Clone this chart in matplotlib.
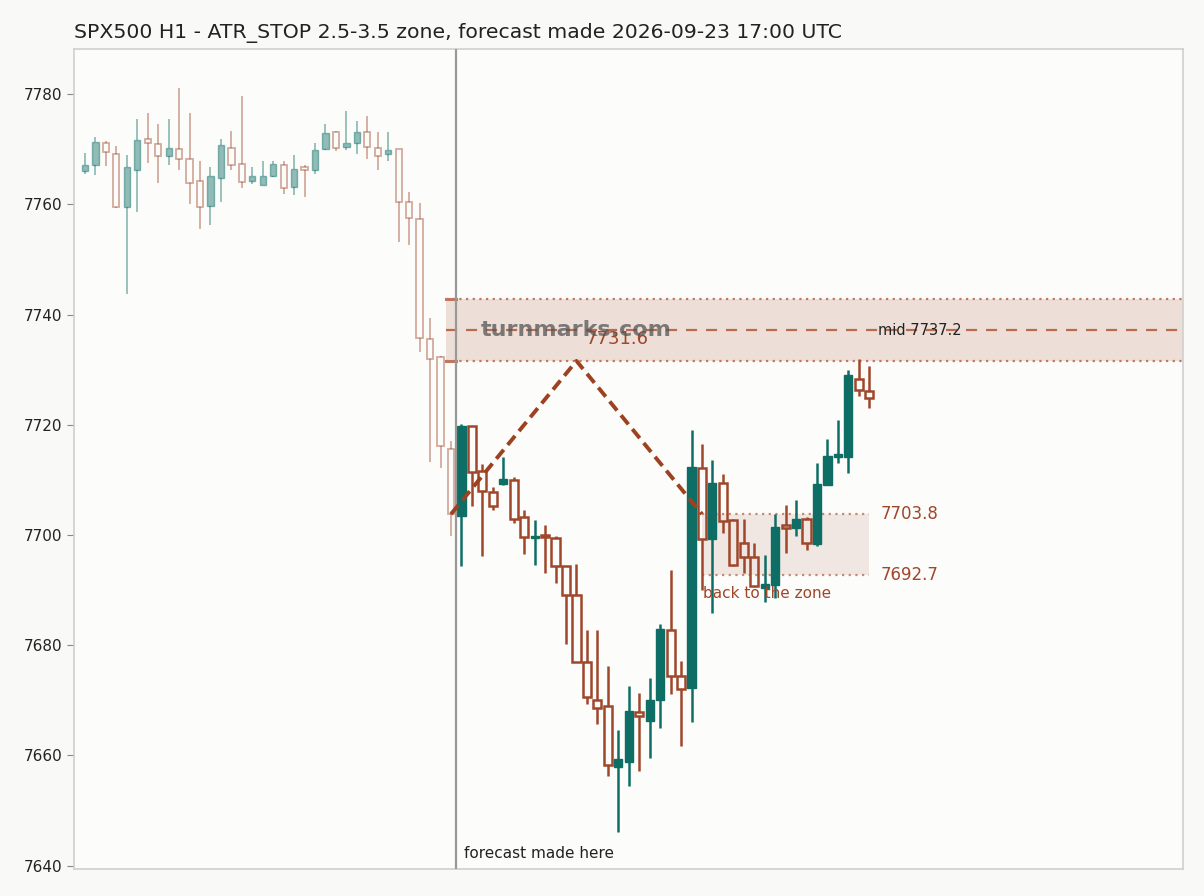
import matplotlib
matplotlib.use("Agg")
import matplotlib.pyplot as plt
from matplotlib.patches import Rectangle

# ---------------- data ----------------
title = "SPX500 H1 - ATR_STOP 2.5-3.5 zone, forecast made 2026-09-23 17:00 UTC"

hist_open  = [7766.1, 7767.2, 7771.1, 7769.1, 7759.5, 7766.3, 7771.9, 7770.9, 7768.8, 7770.0,
              7768.2, 7764.2, 7759.7, 7764.8, 7770.3, 7767.4, 7764.2, 7763.6, 7765.2, 7767.1,
              7763.1, 7766.7, 7766.3, 7770.0, 7773.1, 7770.5, 7771.2, 7773.1, 7770.3, 7769.1,
              7770.0, 7760.4, 7757.3, 7735.5, 7732.3, 7715.7]
hist_high  = [7769.4, 7772.3, 7771.5, 7770.6, 7768.9, 7775.5, 7776.6, 7774.6, 7775.5, 7781.2,
              7776.6, 7767.8, 7766.7, 7771.9, 7773.4, 7779.6, 7766.8, 7767.8, 7767.8, 7767.8,
              7769.0, 7767.1, 7771.2, 7774.5, 7773.3, 7777.0, 7775.2, 7776.1, 7773.2, 7773.2,
              7770.0, 7762.3, 7760.3, 7739.3, 7732.5, 7717.0]
hist_low   = [7765.6, 7765.4, 7766.9, 7759.4, 7743.7, 7758.6, 7767.6, 7763.8, 7767.1, 7766.3,
              7760.0, 7755.5, 7756.2, 7760.4, 7766.2, 7762.9, 7763.7, 7763.5, 7765.0, 7761.8,
              7761.7, 7761.3, 7765.6, 7769.8, 7769.6, 7769.8, 7769.2, 7768.2, 7766.3, 7767.8,
              7753.1, 7752.7, 7733.3, 7713.3, 7712.2, 7699.8]
hist_close = [7767.1, 7771.4, 7769.5, 7759.5, 7766.7, 7771.6, 7771.1, 7768.7, 7770.2, 7768.3,
              7763.8, 7759.6, 7765.1, 7770.7, 7767.1, 7764.0, 7765.1, 7765.1, 7767.3, 7762.9,
              7766.5, 7766.3, 7769.8, 7772.9, 7770.2, 7771.2, 7773.2, 7770.5, 7768.7, 7769.8,
              7760.4, 7757.5, 7735.7, 7732.0, 7716.1, 7703.8]

fut_open  = [7703.5, 7719.8, 7711.7, 7707.9, 7709.3, 7709.9, 7703.3, 7699.4, 7700.0, 7699.5,
             7694.3, 7689.2, 7677.0, 7670.1, 7668.9, 7658.0, 7658.8, 7667.8, 7666.3, 7670.0,
             7682.7, 7674.4, 7672.2, 7712.2, 7699.3, 7709.4, 7702.8, 7698.6, 7696.1, 7690.4,
             7691.0, 7701.8, 7701.3, 7703.0, 7698.4, 7709.1, 7714.1, 7714.2, 7728.4, 7726.2]
fut_high  = [7720.2, 7719.8, 7712.9, 7708.7, 7714.1, 7710.5, 7704.6, 7702.7, 7701.8, 7699.8,
             7694.4, 7694.8, 7682.8, 7682.8, 7676.3, 7664.7, 7672.6, 7671.3, 7674.1, 7683.9,
             7693.7, 7677.2, 7719.1, 7716.5, 7713.6, 7711.1, 7703.0, 7703.0, 7698.5, 7696.4,
             7703.9, 7705.5, 7706.4, 7703.3, 7713.0, 7717.5, 7720.9, 7730.0, 7731.9, 7730.7]
fut_low   = [7694.3, 7705.2, 7696.2, 7704.6, 7709.1, 7702.2, 7696.6, 7694.6, 7693.2, 7691.3,
             7680.2, 7676.9, 7669.4, 7665.7, 7656.2, 7646.2, 7654.5, 7657.1, 7659.6, 7664.9,
             7671.2, 7661.7, 7666.1, 7690.1, 7685.8, 7700.3, 7694.3, 7693.2, 7690.6, 7687.9,
             7688.5, 7696.7, 7699.9, 7697.2, 7698.1, 7709.1, 7713.0, 7711.2, 7725.2, 7723.0]
fut_close = [7719.7, 7711.4, 7708.0, 7705.2, 7710.2, 7703.0, 7699.6, 7699.8, 7699.6, 7694.4,
             7689.1, 7676.9, 7670.6, 7668.6, 7658.2, 7659.3, 7668.0, 7667.1, 7670.1, 7683.0,
             7674.4, 7672.0, 7712.4, 7699.3, 7709.5, 7702.5, 7694.5, 7696.1, 7690.7, 7691.1,
             7701.4, 7701.3, 7703.0, 7698.5, 7709.2, 7714.3, 7714.7, 7729.0, 7726.3, 7724.9]

zone_low, zone_mid, zone_high = 7731.6, 7737.2, 7742.8
target_low, target_high = 7692.7, 7703.8
path_x = [35, 47, 59]
path_y = [7703.8, 7731.6, 7703.8]
peak_label = "7731.6"
yticks = [7640, 7660, 7680, 7700, 7720, 7740, 7760, 7780]

# ---------------- style ----------------
TEAL = "#0e6e66"
RUST = "#a0462a"
FIG_BG = "#f9f9f7"
AX_BG = "#fcfcfa"

fig = plt.figure(figsize=(12.04, 8.96), dpi=100, facecolor=FIG_BG)
ax = fig.add_axes([74/1204, 1-869/896, (1183-74)/1204, (869-49)/896])
ax.set_facecolor(AX_BG)

n_hist = len(hist_open)
forecast_x = n_hist - 0.5


def draw_candles(xs, o, h, l, c, width, alpha, lw, z):
    for x, op, hi, lo, cl in zip(xs, o, h, l, c):
        up = cl >= op
        col = TEAL if up else RUST
        top, bot = max(op, cl), min(op, cl)
        ax.vlines(x, top, hi, color=col, lw=lw, alpha=alpha, zorder=z)
        ax.vlines(x, lo, bot, color=col, lw=lw, alpha=alpha, zorder=z)
        if up:
            rect = Rectangle((x - width/2, bot), width, max(top - bot, 0.15),
                             facecolor=col, edgecolor=col, lw=1.0, alpha=alpha, zorder=z+1)
        else:
            rect = Rectangle((x - width/2, bot), width, max(top - bot, 0.15),
                             facecolor="none", edgecolor=col, lw=lw, alpha=alpha, zorder=z+1)
        ax.add_patch(rect)


hist_x = list(range(n_hist))
fut_x = list(range(n_hist, n_hist + len(fut_open)))
draw_candles(hist_x, hist_open, hist_high, hist_low, hist_close, 0.6, 0.45, 1.3, 3)
draw_candles(fut_x, fut_open, fut_high, fut_low, fut_close, 0.78, 1.0, 1.8, 5)

xmin_lim, xmax = -1.05, 105.0
zone_start = 34.5
# upper zone
ax.axhspan(zone_low, zone_high, xmin=(zone_start - xmin_lim) / (xmax - xmin_lim), xmax=1,
           facecolor="#e9d6cd", alpha=0.75, lw=0, zorder=1)
for yv in (zone_low, zone_high):
    ax.plot([zone_start, xmax], [yv, yv], color="#c0775e", lw=1.6, ls=(0, (1, 2)), zorder=2)
    ax.plot([zone_start, zone_start + 1], [yv, yv], color="#c0775e", lw=2.2, zorder=2)
ax.plot([zone_start, xmax], [zone_mid, zone_mid], color="#bb6a4f", lw=1.6, ls=(0, (5, 4)), zorder=2)
ax.text(75.8, zone_mid, f"mid {zone_mid}", fontsize=10.5, color="#222222", va="center", ha="left", zorder=8)

# target zone
last_x = fut_x[-1]
ax.add_patch(Rectangle((path_x[-1], target_low), last_x - path_x[-1], target_high - target_low,
                       facecolor="#eee2dc", alpha=0.8, lw=0, zorder=1))
for yv in (target_low, target_high):
    ax.plot([path_x[-1], last_x], [yv, yv], color="#c58a77", lw=1.6, ls=(0, (1, 2)), zorder=2)
ax.text(last_x + 1.1, target_high, f"{target_high}", fontsize=12, color=RUST, va="center", ha="left")
ax.text(last_x + 1.1, target_low, f"{target_low}", fontsize=12, color=RUST, va="center", ha="left")
ax.text(path_x[-1] + 0.1, target_low - 2.0, "back to the zone", fontsize=11, color=RUST,
        va="top", ha="left", zorder=8)

# forecast path
ax.plot(path_x, path_y, color="#9c4221", lw=2.8, ls=(0, (3, 1.6)), zorder=7)
ax.text(path_x[1] + 0.85, path_y[1] + 2.4, peak_label, fontsize=13, color=RUST,
        va="bottom", ha="left", zorder=8)

# forecast line
ax.axvline(forecast_x, color="#999999", lw=1.6, zorder=6)
ax.text(forecast_x + 0.75, 7642.3, "forecast made here", fontsize=11, color="#222222",
        va="center", ha="left")

# watermark
ax.text(path_x[1], zone_mid, "turnmarks.com", fontsize=16, fontweight="bold",
        color="#555555", alpha=0.75, ha="center", va="center", zorder=9)

ax.set_xlim(xmin_lim, xmax)
ax.set_ylim(7639.4, 7788.2)
ax.set_yticks(yticks)
ax.set_xticks([])
ax.tick_params(axis="y", labelsize=11, colors="#222222", length=5, color="#888888")
for s in ax.spines.values():
    s.set_color("#d0d0d0")
    s.set_linewidth(1.2)

ax.set_title(title, loc="left", fontsize=14.7, color="#222222", pad=8)

fig.savefig("out.png", dpi=100, facecolor=FIG_BG)
